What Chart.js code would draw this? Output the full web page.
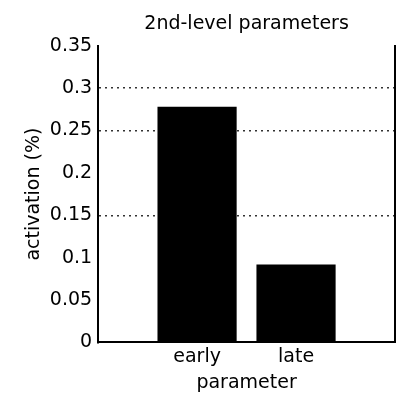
<!DOCTYPE html>
<html>
<head>
<meta charset="utf-8">
<script src="https://cdn.jsdelivr.net/npm/chart.js@4/dist/chart.umd.min.js"></script>
<style>
  html, body { margin: 0; padding: 0; background: #fff; }
  #wrap { width: 398px; height: 401px; }
</style>
</head>
<body>
<div id="wrap"><canvas id="barChart"></canvas></div>
<script>
// data
const categories = ["early", "late"];
const activation = [0.278, 0.092];
const yTicks = ["0", "0.05", "0.1", "0.15", "0.2", "0.25", "0.3", "0.35"];
const dottedAt = [0.15, 0.25, 0.3]; // only these grid lines show

// pad the category axis so the bars sit at 1/3 and 2/3 (like xlim [0 3])
const labels = [""].concat(categories, [""]);
const values = [null].concat(activation, [null]);

Chart.defaults.font.family = "DejaVu Sans";
Chart.defaults.font.size = 19;
Chart.defaults.color = "#000";

const ctx = document.getElementById("barChart").getContext("2d");
const barChart = new Chart(ctx, {
  type: "bar",
  data: {
    labels: labels,
    datasets: [
      {
        label: "activation",
        data: values,
        backgroundColor: "#000",
        borderWidth: 0,
        barPercentage: 0.8,
        categoryPercentage: 1,
      },
    ],
  },
  options: {
    responsive: true,
    maintainAspectRatio: false,
    animation: false,
    layout: { padding: { left: 23, right: 1, top: 0, bottom: 7 } },
    plugins: {
      legend: { display: false },
      tooltip: { enabled: false },
    },
    scales: {
      x: {
        offset: false,
        grid: { display: false, drawTicks: false },
        border: { display: true, color: "#000", width: 2 },
        ticks: { padding: 3, maxRotation: 0, autoSkip: false },
        title: { display: true, text: "parameter", padding: { top: 0, bottom: 0 } },
      },
      // top axis only carries the title, centred over the plot like the reference
      xTop: {
        position: "top",
        offset: false,
        grid: { display: false, drawTicks: false },
        border: { display: false },
        ticks: { display: false },
        title: { display: true, text: "2nd-level parameters", padding: { top: 13, bottom: 10 } },
      },
      y: {
        min: 0,
        max: 0.35,
        ticks: {
          stepSize: 0.05,
          padding: 6,
          callback: (v, i) => yTicks[i],
        },
        grid: {
          drawTicks: false,
          color: (c) =>
            dottedAt.some((g) => Math.abs(c.tick.value - g) < 1e-6) ? "#333" : "rgba(0,0,0,0)",
          lineWidth: 1.5,
        },
        border: { display: true, color: "#000", width: 2, dash: [2, 4] },
        title: { display: true, text: "activation (%)", padding: { top: 0, bottom: -2 } },
      },
      y2: {
        position: "right",
        min: 0,
        max: 0.35,
        ticks: { display: false },
        grid: { display: false, drawTicks: false },
        border: { display: true, color: "#000", width: 2 },
      },
    },
  },
});
</script>
</body>
</html>
